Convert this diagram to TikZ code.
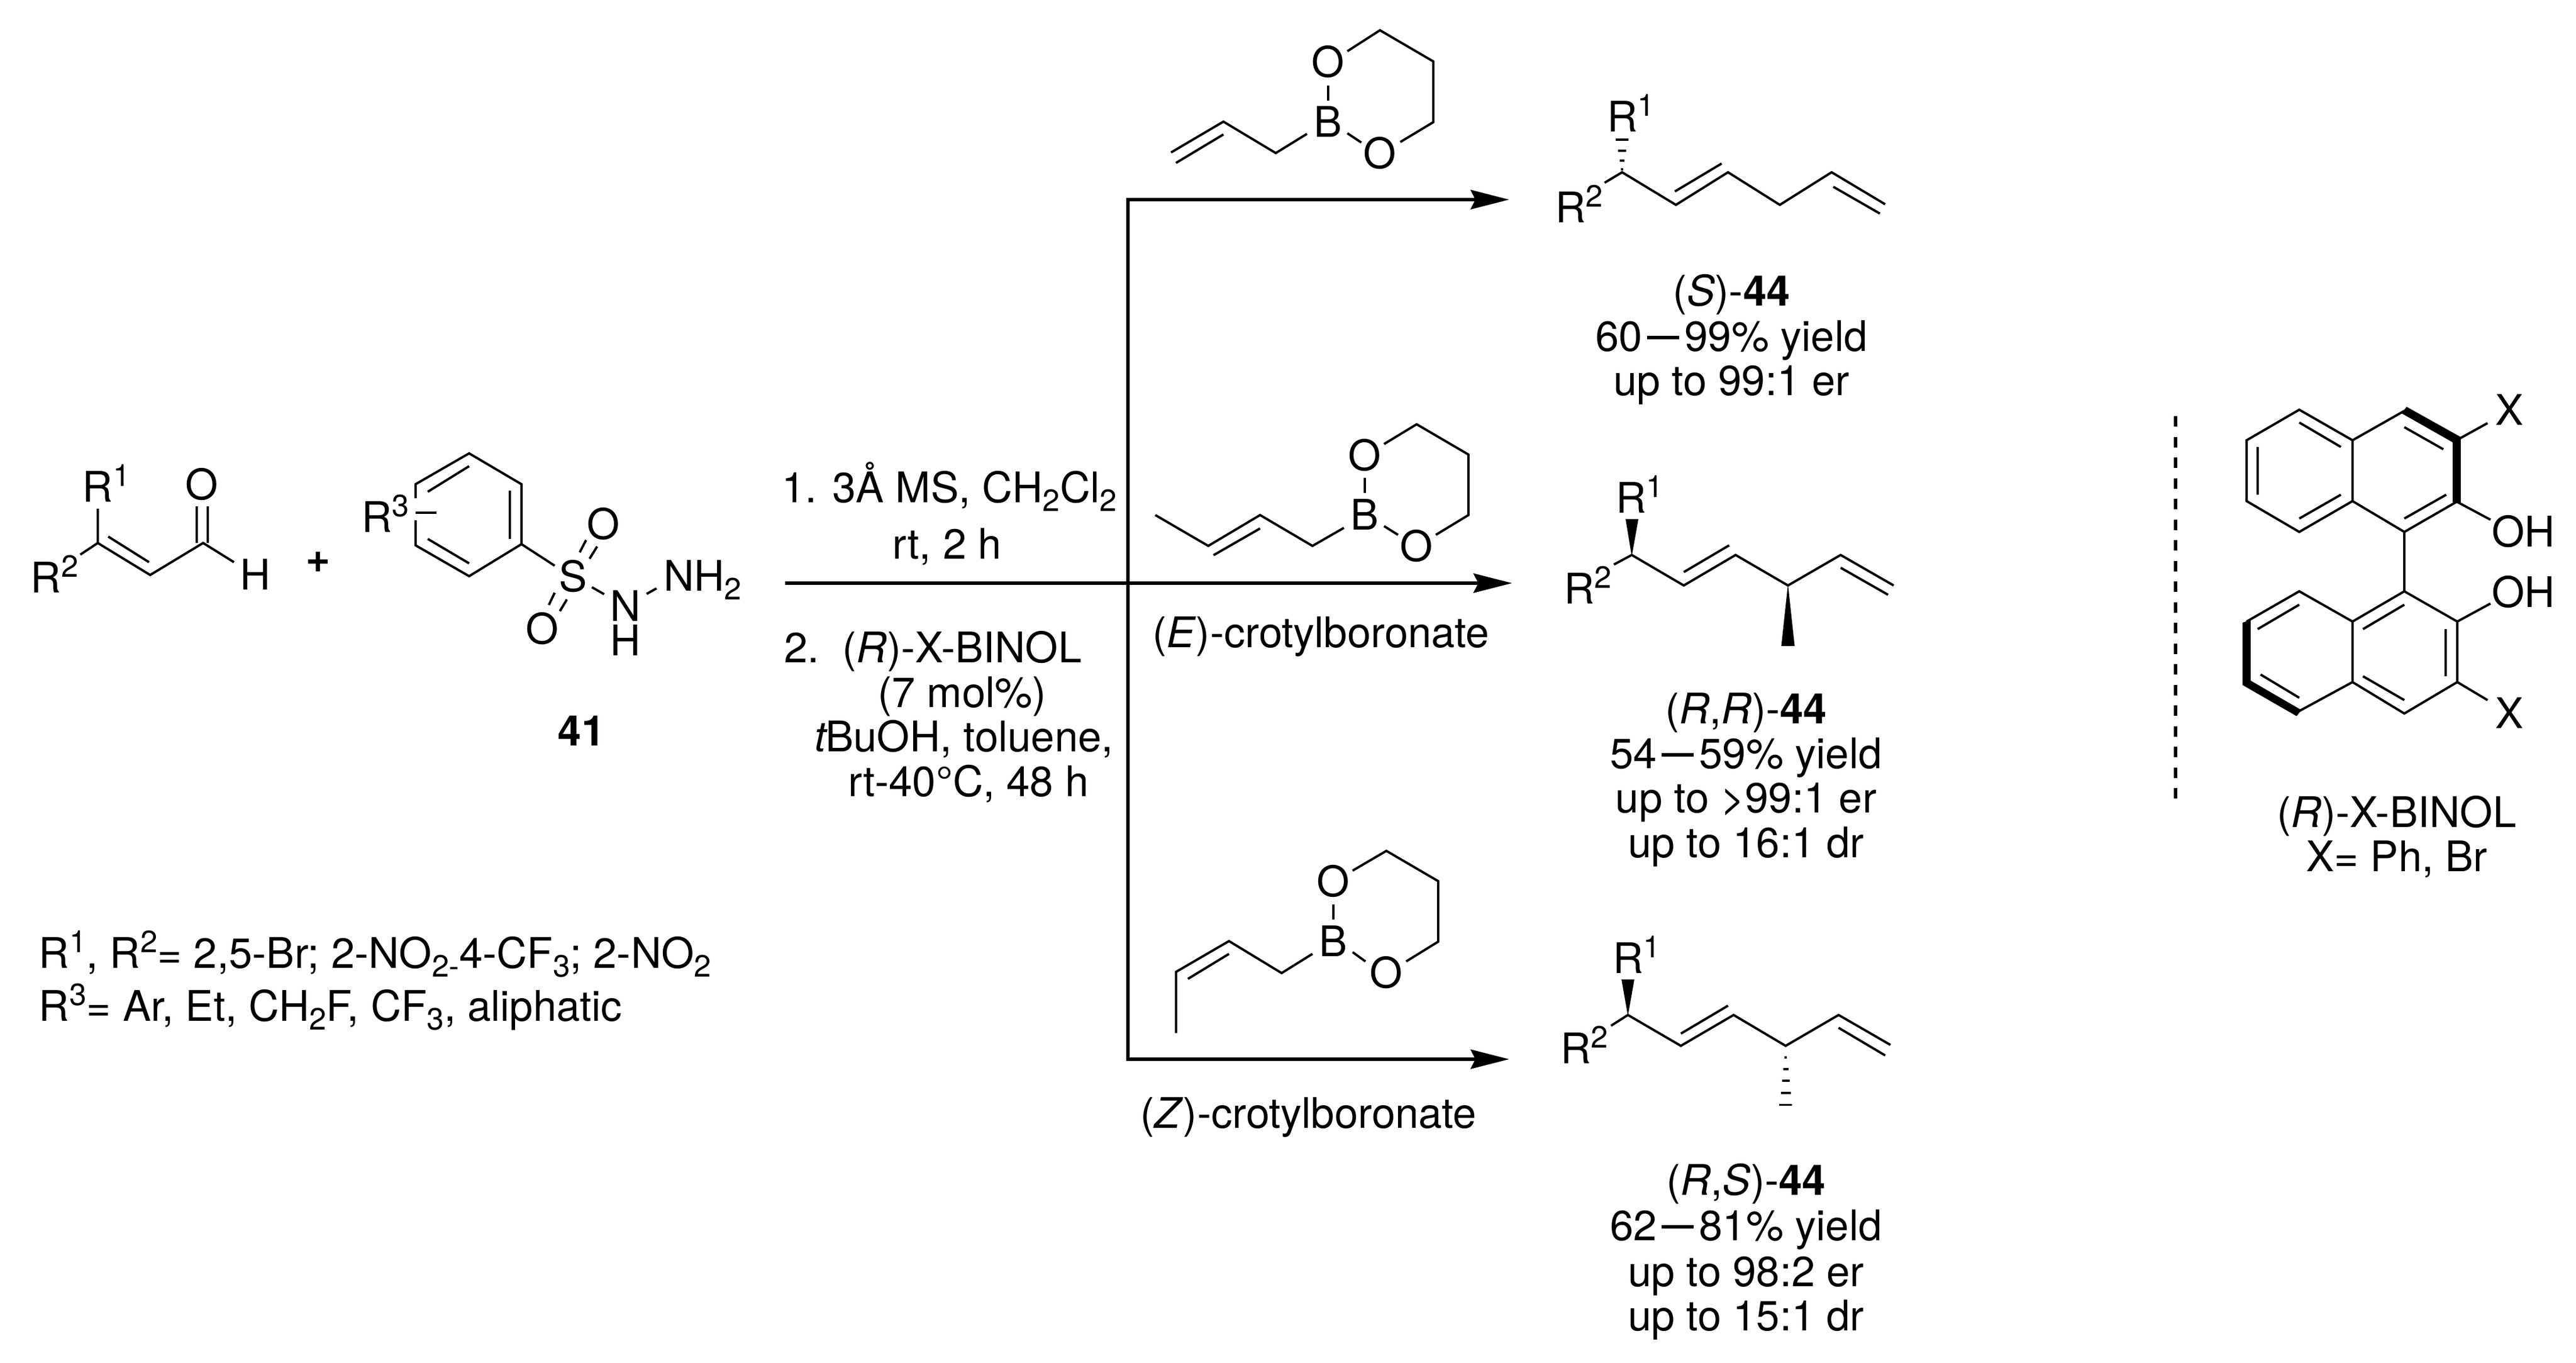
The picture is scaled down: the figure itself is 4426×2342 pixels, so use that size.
\documentclass[tikz,border=0pt]{standalone}
\usepackage{fontspec}
\usepackage{graphicx}
\setmainfont{TeX Gyre Heros}
\usetikzlibrary{arrows.meta}
\newcommand{\chemsup}[1]{\raisebox{0.36em}{\fontsize{15}{15}\selectfont #1}}
\newcommand{\chemsub}[1]{\raisebox{-0.21em}{\fontsize{15}{15}\selectfont #1}}
\newcommand{\chemdash}{\makebox[1em]{\scalebox{0.76}[1.15]{—}}}
\tikzset{
  lbl/.style={inner sep=0pt,outer sep=0pt,anchor=base,font=\fontsize{20.6}{24}\selectfont},
  lblw/.style={lbl,anchor=base west,xshift=-0.05cm},
  bond/.style={line width=0.04cm,line cap=butt,line join=miter,black},
  hashb/.style={line width=0.035cm,black},
  rxn/.style={line width=0.06cm,black},
  rxnarrow/.style={rxn,-{Stealth[length=0.66cm,width=0.33cm,inset=0.08cm]}},
  divider/.style={line width=0.06cm,black,dash pattern=on 0.18cm off 0.175cm},
  solidw/.style={fill=black,draw=none}
}
\begin{document}
\begin{tikzpicture}[x=0.01cm,y=-0.01cm]
\useasboundingbox (0,0) rectangle (4426,2342);

% ---------- aldehyde ----------
\node[lblw] (a-r1) at (147,862) {R\chemsup{1}};
\node[lblw] (a-r2) at (58,1018) {R\chemsup{2}};
\node[lbl] (a-o) at (347,858) {O};
\node[lblw] (a-h) at (417,1013) {H};
\draw[bond] (168,874) -- (168,933) -- (258,988) -- (349,933) -- (402,966);
\draw[bond] (168,933) -- (138,953);
\draw[bond] (186,922) -- (256,966);
\draw[bond] (338,870) -- (338,933);
\draw[bond] (357,870) -- (357,933);

\node[lbl] (plus) at (547,983) {\textbf{+}};

% ---------- sulfonyl hydrazide ----------
\node[lblw] (s-r3) at (626.5,914) {R\chemsup{3}};
\draw[bond] (714,856) -- (714,832) -- (806,779) -- (896,832) -- (896,935) -- (806,990) -- (714,937) -- (714,894);
\draw[bond] (714,881) -- (750,881);
\draw[bond] (806,801) -- (735,845);
\draw[bond] (876,843) -- (876,926);
\draw[bond] (735,926) -- (806,968);
\node[lbl] (s-s) at (985,1016) {S};
\node[lbl] (s-o1) at (1037,926) {O};
\node[lbl] (s-o2) at (932,1106) {O};
\node[lbl] (s-n) at (1075,1067) {N};
\node[lbl] (s-h) at (1075,1126.5) {H};
\node[lblw] (s-nh2) at (1145,1015) {NH\chemsub{2}};
\draw[bond] (896,935) -- (953,972);
\draw[bond] (996,949) -- (1007,928);
\draw[bond] (1013,960) -- (1026,939);
\draw[bond] (953,1018.5) -- (943,1039.5);
\draw[bond] (974,1030) -- (962,1050);
\draw[bond] (1017,1009) -- (1038,1021);
\draw[bond] (1111,1020.5) -- (1128,1011);
\node[lbl] (n41) at (999,1281.5) {\textbf{41}};

% ---------- substituent legend ----------
\node[lblw] (leg1) at (72,1663) {R\chemsup{1}, R\chemsup{2}= 2,5-Br; 2-NO\chemsub{2}\chemsub{-}4-CF\chemsub{3}; 2-NO\chemsub{2}};
\node[lblw] (leg2) at (72,1754) {R\chemsup{3}= Ar, Et, CH\chemsub{2}F, CF\chemsub{3}, aliphatic};

% ---------- conditions ----------
\node[lblw] (c1) at (1348,863) {1. 3Å MS, CH\chemsub{2}Cl\chemsub{2}};
\node[lbl] (c2) at (1627,960) {rt, 2 h};
\node[lblw] (c3) at (1352,1138) {2.\ \ (\textit{R})-X-BINOL};
\node[lbl] (c4) at (1653,1215) {(7 mol\%)};
\node[lblw] (c5) at (1404,1291) {\textit{t}\kern-0.05emBuOH, toluene,};
\node[lblw] (c6) at (1462,1368) {rt-40°C, 48 h};

% ---------- arrows ----------
\coordinate (vtop) at (1938,343);
\coordinate (vbot) at (1938,1820);
\coordinate (tip1) at (2593,343);
\coordinate (start2) at (1349,1002);
\coordinate (tip2) at (2598,1002);
\coordinate (tip3) at (2593,1820);
\draw[rxnarrow] (vtop) -- (tip1);
\draw[rxnarrow] (start2) -- (tip2);
\draw[rxn] (1938,340) -- (vbot);
\draw[rxnarrow] (1935,1820) -- (tip3);

% ---------- allyl boronate ----------
\node[lbl] (b1-b) at (2282,235) {B};
\node[lbl] (b1-o1) at (2282,133) {O};
\node[lbl] (b1-o2) at (2371,289) {O};
\draw[bond] (2012,262) -- (2102,209) -- (2192,263) -- (2245.5,230);
\draw[bond] (2020.5,280) -- (2102,231);
\draw[bond] (2282,147) -- (2282,173);
\draw[bond] (2315,88) -- (2371,52) -- (2462.5,105.5) -- (2462.5,210) -- (2406,244);
\draw[bond] (2315,229) -- (2339,245);

% ---------- product S-44 ----------
\node[lblw] (p1-r1) at (2766,226) {R\chemsup{1}};
\node[lblw] (p1-r2) at (2677,382) {R\chemsup{2}};
\draw[bond] (2757,314) -- (2787,296) -- (2879.5,352) -- (2969,296) -- (3058,352) -- (3147,296) -- (3239,351);
\draw[bond] (2877.7,329) -- (2958,281);
\draw[bond] (3150,321) -- (3230,367);
\draw[hashb] (2776,240) -- (2798,240);
\draw[hashb] (2780,259) -- (2794,259);
\draw[hashb] (2783,276) -- (2791,276);
\draw[hashb] (2785,291) -- (2789,291);
\node[lbl] (p1-a) at (2975,525) {(\textit{S})-\textbf{44}};
\node[lbl] (p1-b) at (2975,603) {60\chemdash 99\% yield};
\node[lbl] (p1-c) at (2975,679) {up to 99:1 er};

% ---------- E-crotyl boronate ----------
\node[lbl] (b2-b) at (2345,910) {B};
\node[lbl] (b2-o1) at (2345,808) {O};
\node[lbl] (b2-o2) at (2434,964) {O};
\draw[bond] (1985,885) -- (2076,938) -- (2165,885) -- (2255,938) -- (2309,907);
\draw[bond] (2085,954) -- (2165,908);
\draw[bond] (2345,821) -- (2345,847);
\draw[bond] (2378,763) -- (2434,729) -- (2523,781) -- (2523,885) -- (2467,919);
\draw[bond] (2378,904) -- (2402,919);
\node[lblw] (b2-n) at (1985,1112) {(\textit{E})-crotylboronate};

% ---------- product R,R-44 ----------
\node[lblw] (p2-r1) at (2781,881) {R\chemsup{1}};
\node[lblw] (p2-r2) at (2692,1037) {R\chemsup{2}};
\draw[bond] (2773,970) -- (2803.6,953.6) -- (2893,1006) -- (2982,953.6) -- (3072,1006) -- (3162.5,953.6) -- (3253.6,1006);
\draw[bond] (2893,983) -- (2971,937);
\draw[bond] (3162.5,975.5) -- (3244,1022);
\fill[solidw] (2803.6,956) -- (2793,892) -- (2815,892) -- cycle;
\fill[solidw] (3072,1004) -- (3060.5,1110) -- (3083.5,1110) -- cycle;
\node[lbl] (p2-a) at (3000,1243) {(\textit{R},\textit{R})-\textbf{44}};
\node[lbl] (p2-b) at (3000,1320) {54\chemdash 59\% yield};
\node[lbl] (p2-c) at (3000,1396) {up to >99:1 er};
\node[lbl] (p2-d) at (3000,1473) {up to 16:1 dr};

% ---------- Z-crotyl boronate ----------
\node[lbl] (b3-b) at (2291,1643) {B};
\node[lbl] (b3-o1) at (2291,1540) {O};
\node[lbl] (b3-o2) at (2382,1697) {O};
\draw[bond] (2020.5,1775) -- (2020.5,1670) -- (2111.6,1617) -- (2202,1672) -- (2255,1639);
\draw[bond] (2041,1682) -- (2111.6,1639);
\draw[bond] (2291,1554) -- (2291,1580);
\draw[bond] (2324,1496) -- (2382,1462) -- (2471,1514) -- (2471,1618) -- (2416,1652);
\draw[bond] (2324,1636) -- (2346,1652);
\node[lblw] (b3-n) at (1964,1938) {(\textit{Z})-crotylboronate};

% ---------- product R,S-44 ----------
\node[lblw] (p3-r1) at (2776,1672) {R\chemsup{1}};
\node[lblw] (p3-r2) at (2686,1827) {R\chemsup{2}};
\draw[bond] (2768,1762.5) -- (2797,1744) -- (2888,1797) -- (2978.6,1744) -- (3068,1797) -- (3159,1744) -- (3248,1795.4);
\draw[bond] (2888,1776) -- (2969,1728);
\draw[bond] (3159,1766) -- (3239,1813.5);
\fill[solidw] (2797,1746) -- (2786,1683) -- (2808,1683) -- cycle;
\draw[hashb] (3066,1817) -- (3070,1817);
\draw[hashb] (3063.5,1837) -- (3072.5,1837);
\draw[hashb] (3061.5,1857) -- (3074.5,1857);
\draw[hashb] (3059.5,1878) -- (3076.5,1878);
\draw[hashb] (3057,1898.5) -- (3079,1898.5);
\node[lbl] (p3-a) at (3000,2053) {(\textit{R},\textit{S})-\textbf{44}};
\node[lbl] (p3-b) at (3000,2131) {62\chemdash 81\% yield};
\node[lbl] (p3-c) at (3000,2210) {up to 98:2 er};
\node[lbl] (p3-d) at (3000,2286) {up to 15:1 dr};

% ---------- divider ----------
\coordinate (div1) at (3738,715);
\coordinate (div2) at (3738,1386);
\draw[divider] (div1) -- (div2);

% ---------- BINOL ----------
\draw[bond] (3950.5,704) -- (4042,756.5) -- (4042,861) -- (3950.5,914) -- (3860,861) -- (3860,756.5) -- cycle;
\draw[bond] (3950.5,726) -- (4022,768);
\draw[bond] (3879,768) -- (3879,850);
\draw[bond] (3950.5,891) -- (4022,850);
\draw[bond] (4042,756.5) -- (4131,706);
\draw[bond] (4223,861) -- (4131,914) -- (4042,861);
\draw[bond] (4131,734) -- (4198,772);
\draw[bond] (4131,891) -- (4203,850);
\fill[solidw] (4126,710) -- (4135,699) -- (4228,751) -- (4228,863) -- (4214,863) -- (4214,760) -- cycle;
\draw[bond] (4227,753) -- (4274,727);
\draw[bond] (4221,862) -- (4279,893);
\draw[bond] (4131,914) -- (4131,1016);
\draw[bond] (4131,1016) -- (4222,1068) -- (4222,1172) -- (4131,1226) -- (4042,1172) -- (4042,1068) -- cycle;
\draw[bond] (4131,1039) -- (4060,1081);
\draw[bond] (4202,1081) -- (4202,1162);
\draw[bond] (4131,1203) -- (4060,1162);
\draw[bond] (4222,1068) -- (4279,1037);
\draw[bond] (4222,1172) -- (4274,1203);
\draw[bond] (4042,1068) -- (3950.5,1016) -- (3860,1068);
\draw[bond] (3950,1222) -- (4042,1172);
\fill[solidw] (3853,1070) -- (3867,1065) -- (3867,1169.5) -- (3954,1220) -- (3946,1230.5) -- (3853,1177) -- cycle;
\draw[bond] (3950.5,1039) -- (3879,1081);
\draw[bond] (3884,1159) -- (3950.5,1199);
\node[lbl] (x1) at (4312,730) {X};
\node[lbl] (x2) at (4312,1251) {X};
\node[lblw] (oh1) at (4286,939) {OH};
\node[lblw] (oh2) at (4286,1043) {OH};
\node[lbl] (bn1) at (4118,1421.5) {(\textit{R})-X-BINOL};
\node[lbl] (bn2) at (4118,1497) {X= Ph, Br};
\end{tikzpicture}
\end{document}
